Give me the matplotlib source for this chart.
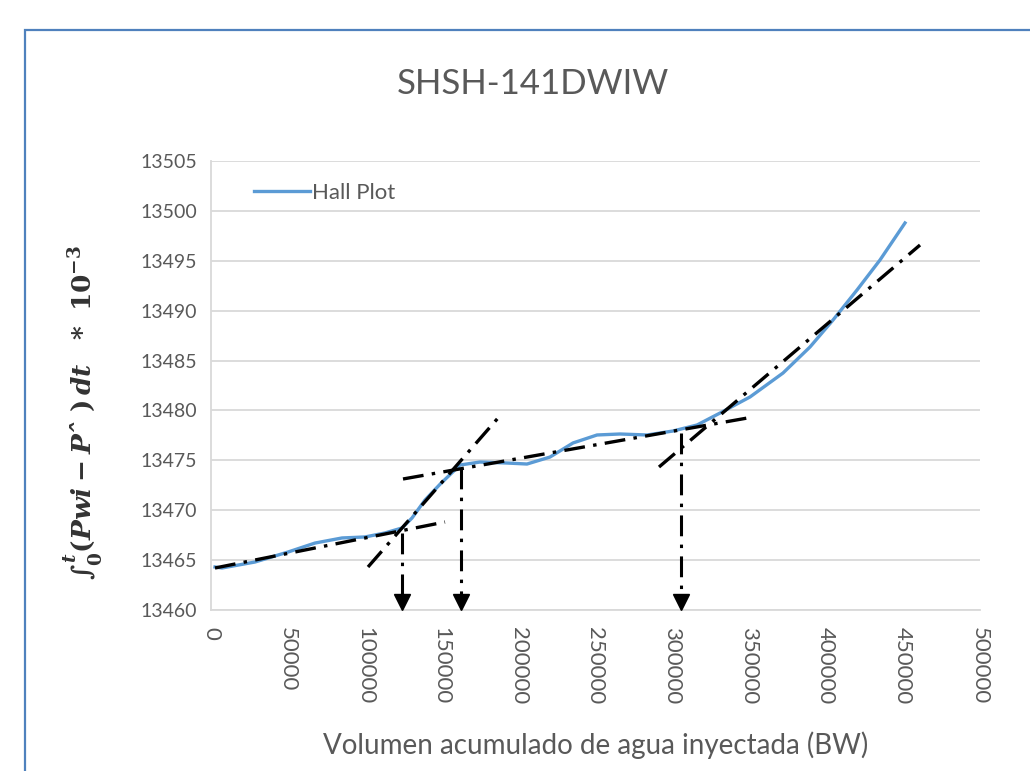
import matplotlib
matplotlib.use("Agg")
import matplotlib.pyplot as plt
from matplotlib.patches import Rectangle
from matplotlib.transforms import offset_copy

# Hall plot curve
hall_x = [2601, 7152, 28609, 50065, 67620, 85176, 100130, 113134, 124187, 130689,
          139142, 148895, 161898, 174902, 192457, 205461, 220418, 235373, 250977,
          265932, 283487, 300392, 315997, 330952, 350458, 371914, 389469, 404424,
          420029, 434984, 451238]
hall_y = [13464.31, 13464.21, 13464.81, 13465.81, 13466.71, 13467.22, 13467.32,
          13467.72, 13468.22, 13469.22, 13471.02, 13472.6, 13474.53, 13474.83,
          13474.73, 13474.63, 13475.33, 13476.74, 13477.54, 13477.64, 13477.54,
          13477.94, 13478.54, 13479.74, 13481.35, 13483.75, 13486.36, 13489.06,
          13492.07, 13495.08, 13498.79]

# straight trend lines (start x, start y, end x, end y)
trend_lines = [
    (2601, 13464.21, 152147, 13468.82),
    (102082, 13464.31, 186609, 13479.24),
    (124837, 13473.13, 352408, 13479.34),
    (291290, 13474.33, 460997, 13496.58),
]

# arrows down to the x axis (x, top y)
arrow_x = [124187, 162550, 305594]
arrow_top = [13467.72, 13474.23, 13477.74]

x_ticks = list(range(0, 500001, 50000))
y_ticks = list(range(13460, 13506, 5))

plt.rcParams['font.family'] = ['Lato', 'DejaVu Sans']
plt.rcParams['lines.scale_dashes'] = False
plt.rcParams['mathtext.fontset'] = 'custom'
plt.rcParams['mathtext.it'] = 'DejaVu Serif:italic:bold'
plt.rcParams['mathtext.rm'] = 'DejaVu Serif:bold'
plt.rcParams['mathtext.bf'] = 'DejaVu Serif:bold'

txt = '#595959'
grid_c = '#d9d9d9'
dashdot = (0, (15, 6, 2.5, 6))

fig = plt.figure(figsize=(10.3, 7.71), dpi=100)
ax = fig.add_axes([211 / 1030, 1 - 610 / 771, 769 / 1030, 449 / 771])

# outer chart border (cropped on right/bottom in the original)
fig.patches.append(Rectangle((25 / 1030, -0.1), 1.2, 1 - 30 / 771 + 0.1,
                             transform=fig.transFigure, fill=False,
                             edgecolor='#4f81bd', lw=1.6))

for xs, ys, xe, ye in trend_lines:
    ax.plot([xs, xe], [ys, ye], color='black', lw=2.4, linestyle=dashdot,
            dash_capstyle='butt', zorder=3)

# arrow shafts + filled triangle heads (tip sitting on the x axis)
head_ms = 12
head_tr = offset_copy(ax.transData, fig=fig, y=head_ms / 2, units='points')
for x, top in zip(arrow_x, arrow_top):
    ax.plot([x, x], [top, 13461.0], color='black', lw=2.2, linestyle=dashdot,
            dash_capstyle='butt', zorder=4)
    ax.plot([x], [13460], marker='v', markersize=head_ms, color='black',
            transform=head_tr, clip_on=False, zorder=5)

ax.plot(hall_x, hall_y, color='#5b9bd5', lw=2.4, label='Hall Plot', zorder=2)

ax.set_xlim(0, 500000)
ax.set_ylim(13460, 13505)
ax.set_xticks(x_ticks)
ax.set_yticks(y_ticks)
ax.set_xticklabels([str(v) for v in x_ticks], rotation=-90, fontsize=16, color=txt)
ax.set_yticklabels([str(v) for v in y_ticks], fontsize=14, color=txt)
ax.tick_params(axis='both', length=0)
ax.tick_params(axis='x', pad=12)
ax.tick_params(axis='y', pad=10)
ax.grid(axis='y', color=grid_c, lw=1.3)
ax.set_axisbelow(True)
for s in ['top', 'right']:
    ax.spines[s].set_visible(False)
for s in ['left', 'bottom']:
    ax.spines[s].set_color(grid_c)
    ax.spines[s].set_linewidth(1.3)

ax.legend(loc='upper left', bbox_to_anchor=(0.03, 0.995), frameon=False,
          fontsize=16, handlelength=2.5, handletextpad=0.1,
          labelcolor=txt)

fig.text(533 / 1030, 1 - 84 / 771, 'SHSH-141DWIW', fontsize=25, color=txt,
         ha='center', va='center')
ax.set_xlabel('Volumen acumulado de agua inyectada (BW)', fontsize=20,
              color=txt, labelpad=20)

ylab = r'$\int_0^t (Pwi - P' + '\u02c6' + r'\ )\,dt\ \ *\ 10^{-3}$'
fig.text(84 / 1030, 1 - 412 / 771, ylab, rotation=90, fontsize=19,
         color='#333333', ha='center', va='center')

fig.savefig('out.png', dpi=100)
